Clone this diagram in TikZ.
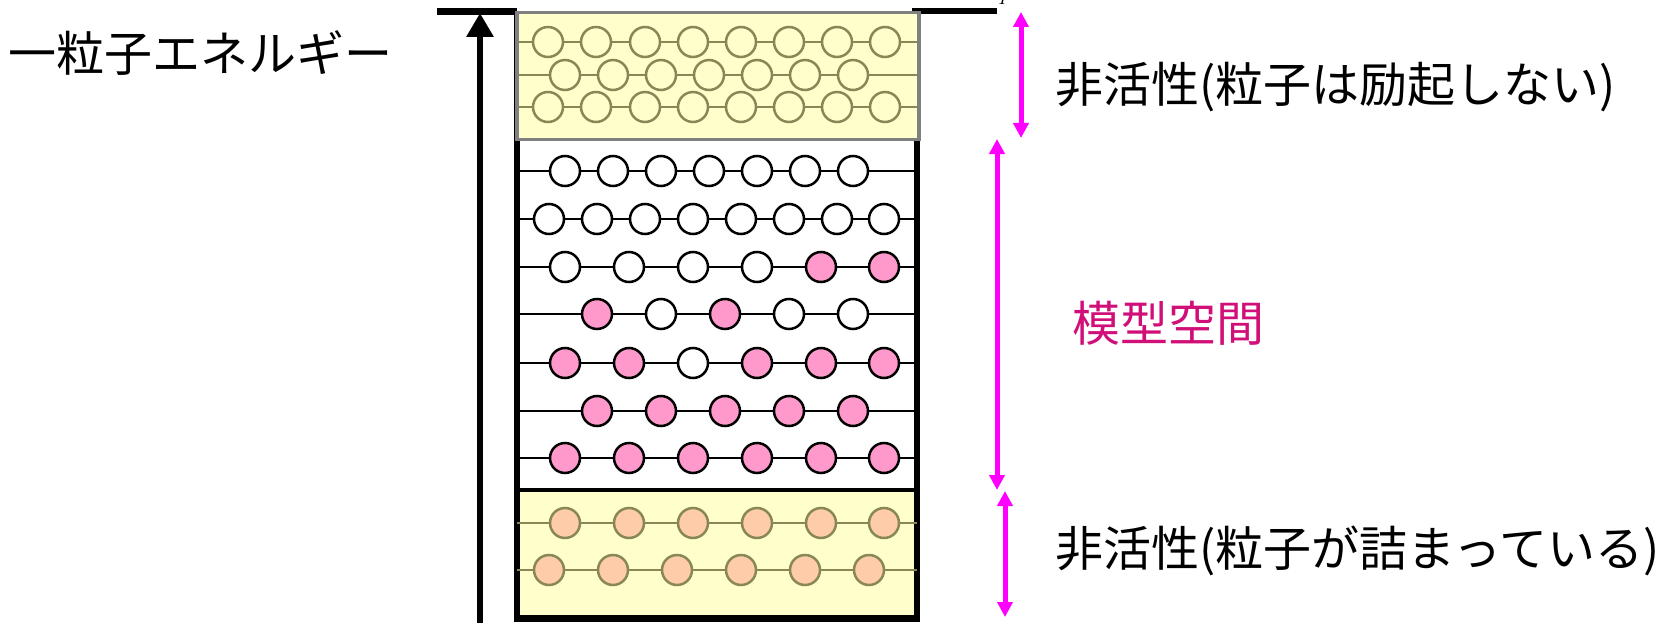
\documentclass[tikz,border=0pt]{standalone}
\usepackage{fontspec}
\newfontfamily\jp{Noto Sans CJK JP}
\usetikzlibrary{arrows.meta}
\definecolor{boxyellow}{HTML}{FFFFCC}
\definecolor{olivedk}{HTML}{878757}
\definecolor{boxgray}{HTML}{808080}
\definecolor{pinkfill}{HTML}{FF99CC}
\definecolor{orangefill}{HTML}{FFCCAA}
\definecolor{labelpink}{RGB}{208,16,120}
\definecolor{arrowmag}{HTML}{FF00FF}
\tikzset{
  ball/.style={circle, draw=black, line width=2.5pt, minimum size=30pt, inner sep=0pt},
  wball/.style={ball, fill=white},
  pball/.style={ball, fill=pinkfill},
  yball/.style={ball, draw=olivedk, fill=boxyellow},
  oball/.style={ball, draw=olivedk, fill=orangefill},
  rowline/.style={line width=2pt, draw=black},
  yrowline/.style={line width=2pt, draw=olivedk},
  wall/.style={line width=6.5pt, draw=black},
  topline/.style={line width=6.5pt, draw=black},
  magarrow/.style={line width=5pt, draw=arrowmag, {Triangle[length=15pt,width=15pt]}-{Triangle[length=15pt,width=15pt]}},
  lbl/.style={font=\jp\fontsize{48}{56}\selectfont, inner sep=0pt, anchor=west}
}
\begin{document}
\begin{tikzpicture}[x=1pt,y=-1pt]
\useasboundingbox (0,0) rectangle (1670,623);
% walls
\coordinate (wTL) at (517,11.5);
\coordinate (wBL) at (517,618.5);
\coordinate (wBR) at (917,618.5);
\coordinate (wTR) at (917,11);
\fill[boxyellow] (517,490) rectangle (917,618.5);
\draw[wall, line join=miter] (wTL) -- (wBL) -- (wBR) -- (wTR);
\coordinate (topL) at (437,11.5);
\coordinate (topR) at (997,11);
\coordinate (topRin) at (912,11);
\draw[topline] (topL) -- (wTL);
\draw[topline] (topRin) -- (topR);
\coordinate (sepL) at (517,490);
\coordinate (sepR) at (917,490);
\draw[line width=3.5pt] (sepL) -- (sepR);
% top box
\node[draw=boxgray, fill=boxyellow, line width=3.5pt, minimum width=402pt, minimum height=127pt, inner sep=0pt, anchor=north west] (topbox) at (515,11) {};
% black energy arrow
\coordinate (eB) at (480,623);
\coordinate (eT) at (480,13);
\draw[line width=6pt, -{Triangle[length=24pt,width=26pt]}] (eB) -- (eT);
% row lines
\foreach \y/\s/\n in {42/yrowline/ta,75/yrowline/tb,107/yrowline/tc,523/yrowline/ba,570/yrowline/bb} {
  \coordinate (\n L) at (517,\y);
  \coordinate (\n R) at (917,\y);
  \draw[\s] (\n L) -- (\n R);
}
\foreach \y/\n in {171/ma,219/mb,267/mc,314/md,363/me,411/mf,458/mg} {
  \coordinate (\n L) at (519,\y);
  \coordinate (\n R) at (915,\y);
  \draw[rowline] (\n L) -- (\n R);
}
% top box balls
\foreach \x [count=\i] in {548,596,645,693,741,789,837,885}
  \node[yball] (ta\i) at (\x,42) {};
\foreach \x [count=\i] in {565,613,661,709,757,805,853}
  \node[yball] (tb\i) at (\x,75) {};
\foreach \x [count=\i] in {548,596,645,693,741,789,837,885}
  \node[yball] (tc\i) at (\x,107) {};
% model space balls
\foreach \x [count=\i] in {565,613,661,709,757,805,853}
  \node[wball] (ma\i) at (\x,171) {};
\foreach \x [count=\i] in {549,597,645,693,741,789,837,884}
  \node[wball] (mb\i) at (\x,219) {};
\foreach \x/\st [count=\i] in {565/wball,629/wball,693/wball,757/wball,821/pball,884/pball}
  \node[\st] (mc\i) at (\x,267) {};
\foreach \x/\st [count=\i] in {597/pball,661/wball,725/pball,789/wball,853/wball}
  \node[\st] (md\i) at (\x,314) {};
\foreach \x/\st [count=\i] in {565/pball,629/pball,693/wball,757/pball,821/pball,884/pball}
  \node[\st] (me\i) at (\x,363) {};
\foreach \x [count=\i] in {597,661,725,789,853}
  \node[pball] (mf\i) at (\x,411) {};
\foreach \x [count=\i] in {565,629,693,757,821,884}
  \node[pball] (mg\i) at (\x,458) {};
% bottom balls
\foreach \x [count=\i] in {565,629,693,757,821,884}
  \node[oball] (ba\i) at (\x,523) {};
\foreach \x [count=\i] in {549,613,677,741,805,869}
  \node[oball] (bb\i) at (\x,570) {};
% magenta range arrows
\coordinate (a1T) at (1021,12);
\coordinate (a1B) at (1021,138);
\coordinate (a2T) at (997,139);
\coordinate (a2B) at (997,490);
\coordinate (a3T) at (1005,491);
\coordinate (a3B) at (1005,617);
\draw[magarrow] (a1T) -- (a1B);
\draw[magarrow] (a2T) -- (a2B);
\draw[magarrow] (a3T) -- (a3B);
% labels
\node[lbl] (energy) at (8,53) {一粒子エネルギー};
\node[lbl] (inact1) at (1055,87) {非活性(粒子は励起しない)};
\node[lbl, text=labelpink] (model) at (1072,323) {模型空間};
\node[lbl] (inact2) at (1055,551) {非活性(粒子が詰まっている)};
\node[font=\itshape\fontsize{20}{20}\selectfont, inner sep=0pt, anchor=base] (flabel) at (1002,5) {I};
\end{tikzpicture}
\end{document}
